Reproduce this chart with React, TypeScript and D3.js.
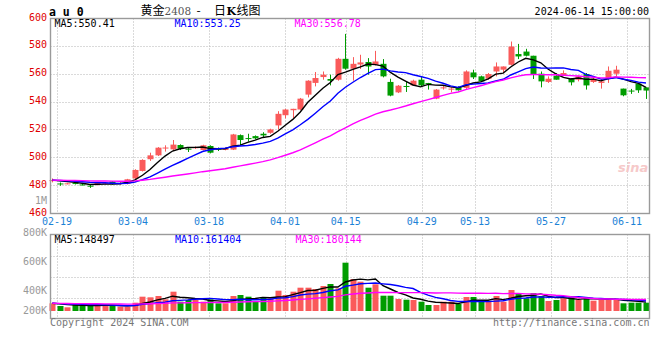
import React from 'react';
import * as d3 from 'd3';

// ---- data ----
const opens = [483.0,481.2,481.1,481.5,480.5,479.6,480.2,481.3,482.6,481.2,480.9,484.8,490.2,498.6,501.4,506.6,505.7,508.8,506.2,506.5,
505.2,508.1,506.1,505.6,505.5,515.9,513.8,515.2,516.9,517.6,522.9,530.2,533.8,534.3,545.0,553.4,557.6,556.2,555.7,570.7,
563.6,566.6,568.4,566.4,567.1,554.1,546.6,551.2,551.6,555.7,553.3,542.1,549.6,549.0,550.2,549.8,560.9,558.1,556.4,561.6,
562.9,566.4,574.1,575.9,572.9,560.0,554.1,558.6,558.6,556.4,555.7,559.8,554.1,553.4,556.2,560.0,549.3,547.9,552.9,550.2];
const highs = [484.8,481.9,481.6,482.0,480.8,480.4,482.2,482.2,482.9,482.6,484.5,491.4,498.6,503.3,507.3,508.6,512.4,509.3,506.9,507.8,
509.0,508.6,507.0,507.0,516.8,516.4,516.9,515.7,518.0,520.5,533.1,534.8,534.8,542.6,555.3,561.2,561.6,559.3,571.4,588.6,
571.9,573.6,571.2,576.4,570.5,556.4,551.9,554.5,555.7,557.6,553.4,549.0,551.4,550.2,551.0,562.4,562.9,558.6,560.5,568.1,
565.2,583.1,581.4,577.9,572.9,561.6,558.1,560.5,562.4,556.9,558.6,560.5,557.6,556.2,565.2,565.7,549.3,549.1,553.3,550.2];
const lows = [482.0,479.5,480.6,480.5,479.8,478.0,479.8,480.5,480.4,480.4,480.5,484.3,489.8,497.4,500.9,504.1,504.5,505.2,503.8,506.0,
504.8,502.8,504.5,505.0,505.2,508.6,511.2,513.0,514.1,516.9,520.0,527.9,527.9,533.8,543.0,550.9,555.7,551.6,555.0,562.9,
555.0,563.4,559.3,565.9,557.4,543.8,546.1,546.9,551.3,550.9,548.6,541.7,548.6,546.6,547.9,549.1,556.2,554.0,555.7,558.1,
560.5,565.9,570.5,572.4,556.2,550.2,553.4,555.7,558.1,551.6,554.5,548.6,553.4,549.3,553.4,558.1,543.8,545.5,546.2,541.9];
const closes = [483.6,480.8,481.3,480.8,480.2,479.2,481.9,481.7,480.8,481.6,484.2,490.9,498.1,501.4,506.9,507.0,509.1,506.2,506.0,507.2,
508.6,503.3,505.5,506.0,516.4,512.4,513.1,513.6,515.7,520.0,531.2,534.3,534.8,542.1,555.0,556.9,559.3,555.0,570.7,563.6,
567.1,568.1,565.2,568.8,558.1,544.3,551.4,550.7,555.0,551.6,553.0,548.6,550.2,549.3,548.1,561.6,557.4,554.5,559.8,565.2,
565.2,579.5,572.4,572.9,559.8,554.5,556.4,555.7,560.5,553.8,558.1,551.6,556.4,554.5,562.1,562.9,544.5,547.6,548.1,547.9];
// volume in thousands of lots
const volumes = [123,80,59,96,96,96,96,80,96,69,69,133,229,219,240,187,309,149,176,176,
149,187,123,123,240,256,229,149,219,203,325,256,309,373,373,352,400,432,363,773,
512,469,373,427,245,245,192,181,176,149,96,96,149,149,112,224,224,149,149,240,
149,336,288,203,288,240,160,176,203,219,176,219,165,176,203,187,123,133,133,133];

const tickLabels = ['02-19','03-04','03-18','04-01','04-15','04-29','05-13','05-27','06-11'];
const tickIndex = [1,11,21,31,39,49,56,66,76];
const priceTicks = [460,480,500,520,540,560,580,600];
const volTicks = [800,600,400,200];
const maPeriods = [5,10,30];
const maColors = ['#000000','#0000ff','#ff00ff'];
const priceLegend = ['MA5:550.41','MA10:553.25','MA30:556.78'];
const volLegend = ['MA5:148497','MA10:161404','MA30:180144'];

const UP = '#fa5a5a';
const DOWN = '#009c00';
const MONO = '"DejaVu Sans Mono", "Liberation Mono", monospace';

// moving average; days before the first shown one are taken at the first shown value
function movingAvg(arr: number[], n: number): number[] {
  return arr.map((_, i) => {
    const win = arr.slice(Math.max(0, i - n + 1), i + 1);
    const missing = n - win.length;
    return ((d3.sum(win) as number) + missing * arr[0]) / n;
  });
}

export default function App() {
  const W = 660, H = 360;
  const L = 50.5, R = 649.5, T = 18.5, B = 213.5, VT = 234.5, VB = 318.5;
  const n = closes.length;
  const x = d3.scaleLinear().domain([0, n - 1]).range([52.3, 646]);
  const xg = d3.scaleLinear().domain([1, 76]).range([57, 627]);
  const y = d3.scaleLinear().domain([460, 600]).range([213, 18]);
  const yv = d3.scaleLinear().domain([0, 1000]).range([311, 311 - 1000 / 16]);
  const yvGrid = d3.scaleLinear().domain([0, 4]).range([VB, VT]);
  const yvLab = d3.scaleLinear().domain([200, 400, 800]).range([314, 294, 235.5]);
  const px = (v: number) => Math.round(v) + 0.5;

  const priceMA = maPeriods.map(p => movingAvg(closes, p));
  const volMA = maPeriods.map(p => movingAvg(volumes, p));
  const line = (sc: d3.ScaleLinear<number, number>) =>
    d3.line<number>().x((_, i) => x(i)).y(d => sc(d));

  const grid = '#b4b4b4';
  const bw = 6;

  return (
    <svg width={W} height={H} style={{ position: 'fixed', left: 0, top: 0, background: '#fff' }}
      xmlns="http://www.w3.org/2000/svg">
      <rect x={0} y={0} width={W} height={H} fill="#fff" />
      {/* header */}
      <text x={49} y={16} fontFamily={MONO} fontSize={11.5} fontWeight="bold" fill="#000">a u 0</text>
      <text y={14.5} fontSize={12} fill="#000" fontFamily='"Noto Sans CJK SC", sans-serif'>
        <tspan x={140.5}>黄金</tspan>
        <tspan x={164.5} fill="#555" fontFamily='"DejaVu Serif", serif' fontSize={10.5}>2408</tspan>
        <tspan x={196.5}>-</tspan>
        <tspan x={214}>日</tspan>
        <tspan x={226.5} fontWeight="bold" fontFamily='"DejaVu Serif", serif' fontSize={11}>K</tspan>
        <tspan x={236.5}>线图</tspan>
      </text>
      <text x={649} y={15} textAnchor="end" fontFamily={MONO} fontSize={10} fill="#000">2024-06-14 15:00:00</text>

      {/* main panel grid */}
      {priceTicks.filter(t => t > 460 && t < 600).map(t => (
        <line key={'hg' + t} x1={L} x2={R} y1={px(y(t))} y2={px(y(t))} stroke={grid} strokeDasharray="1,2" />
      ))}
      {tickIndex.map((ti, k) => (
        <line key={'vg' + k} x1={px(xg(ti))} x2={px(xg(ti))} y1={T} y2={B} stroke={grid} strokeDasharray="1,2" />
      ))}
      {/* volume panel grid */}
      {[1, 2, 3].map(k => (
        <line key={'vhg' + k} x1={L} x2={R} y1={px(yvGrid(k))} y2={px(yvGrid(k))} stroke={grid} strokeDasharray="1,2" />
      ))}
      {tickIndex.map((ti, k) => (
        <line key={'vvg' + k} x1={px(xg(ti))} x2={px(xg(ti))} y1={VT} y2={VB} stroke={grid} strokeDasharray="1,2" />
      ))}

      {/* watermark */}
      <text x={618} y={172} fontFamily='"DejaVu Sans", sans-serif' fontStyle="italic" fontWeight="bold"
        fontSize={13} fill="#f6c9c9">sina</text>

      {/* candles */}
      {closes.map((c, i) => {
        const o = opens[i];
        const up = c >= o;
        const col = up ? UP : DOWN;
        const cx = Math.round(x(i));
        const top = y(Math.max(o, c));
        const h = Math.max(1, Math.abs(y(o) - y(c)));
        return (
          <g key={'c' + i}>
            <line x1={cx + 0.5} x2={cx + 0.5} y1={y(highs[i])} y2={y(lows[i])} stroke={col} strokeWidth={1} />
            <rect x={cx - 2.5} y={top} width={bw} height={h} fill={col} />
          </g>
        );
      })}
      {/* price MAs */}
      {priceMA.map((m, k) => (
        <path key={'pm' + k} d={line(y)(m) || ''} fill="none" stroke={maColors[k]} strokeWidth={1.4} />
      ))}

      {/* volume bars */}
      {volumes.map((v, i) => {
        const up = closes[i] >= opens[i];
        const cx = Math.round(x(i));
        return <rect key={'v' + i} x={cx - 2.5} y={yv(v)} width={bw} height={yv(0) - yv(v)} fill={up ? UP : DOWN} />;
      })}
      {volMA.map((m, k) => (
        <path key={'vm' + k} d={line(yv)(m) || ''} fill="none" stroke={maColors[k]} strokeWidth={1.4} />
      ))}

      {/* frames */}
      <rect x={L} y={T} width={R - L} height={B - T} fill="none" stroke="#9a9a9a" strokeWidth={1.4} />
      <rect x={L} y={VT} width={R - L} height={VB - VT} fill="none" stroke="#9a9a9a" strokeWidth={1.4} />

      {/* legends */}
      {priceLegend.map((s, k) => (
        <text key={'pl' + k} x={54.5 + k * 120} y={27} fontFamily={MONO} fontSize={10} fill={maColors[k]}>{s}</text>
      ))}
      {volLegend.map((s, k) => (
        <text key={'vl' + k} x={54.5 + k * 120.5} y={242.5} fontFamily={MONO} fontSize={10} fill={maColors[k]}>{s}</text>
      ))}

      {/* price axis labels */}
      {priceTicks.map(t => (
        <text key={'pt' + t} x={47} y={y(t) + 2.5} textAnchor="end" fontFamily={MONO} fontSize={10} fill="#e00000">{t}</text>
      ))}
      <text x={47} y={203.5} textAnchor="end" fontFamily={MONO} fontSize={10} fill="#999">1M</text>

      {/* date labels */}
      {tickLabels.map((s, k) => (
        <text key={'dl' + k} x={xg(tickIndex[k])} y={224.8} textAnchor="middle" fontFamily={MONO} fontSize={10} fill="#1c82d6">{s}</text>
      ))}

      {/* volume axis labels */}
      {volTicks.map(t => (
        <text key={'vt' + t} x={47} y={yvLab(t)} textAnchor="end" fontFamily={MONO} fontSize={10} fill="#999">{t}K</text>
      ))}

      {/* footer */}
      <text x={50} y={325.5} fontFamily={MONO} fontSize={10} fill="#777">Copyright 2024 SINA.COM</text>
      <text x={649.5} y={325.5} textAnchor="end" fontFamily={MONO} fontSize={10} fill="#777">http://finance.sina.com.cn</text>
    </svg>
  );
}
